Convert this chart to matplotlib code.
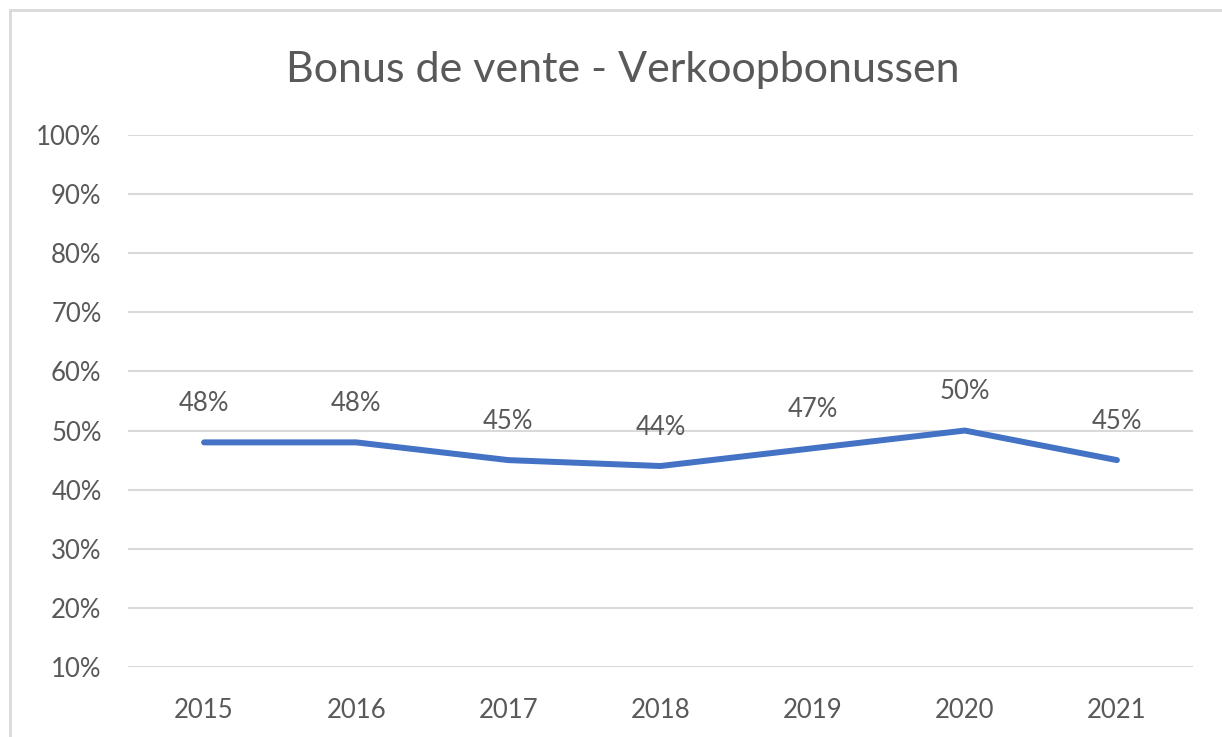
import matplotlib
matplotlib.use("Agg")
import matplotlib.pyplot as plt
from matplotlib.patches import Rectangle

years = ["2015", "2016", "2017", "2018", "2019", "2020", "2021"]
values = [48, 48, 45, 44, 47, 50, 45]
y_ticks = [10, 20, 30, 40, 50, 60, 70, 80, 90, 100]

TEXT = "#595959"
GRID = "#D9D9D9"
BLUE = "#4472C4"

plt.rcParams["font.family"] = ["Lato", "DejaVu Sans"]

fig = plt.figure(figsize=(12.22, 7.37), dpi=100)
ax = fig.add_axes([128 / 1222, 1 - 667 / 737, (1193 - 128) / 1222, (667 - 135) / 737])

x = list(range(len(years)))
ax.plot(x, values, color=BLUE, linewidth=4.3, solid_capstyle="round", solid_joinstyle="round", zorder=3)
for xi, v in zip(x, values):
    ax.annotate(f"{v}%", (xi, v), xytext=(0, 28), textcoords="offset points",
                ha="center", va="center", fontsize=18.5, color=TEXT)

ax.set_xlim(-0.5, len(years) - 0.5)
ax.set_ylim(10, 100)
ax.set_yticks(y_ticks)
ax.set_yticklabels([f"{t}%" for t in y_ticks])
ax.set_xticks(x)
ax.set_xticklabels(years)
ax.tick_params(axis="both", length=0, labelsize=18.5, labelcolor=TEXT)
ax.tick_params(axis="y", pad=19)
ax.tick_params(axis="x", pad=22)
ax.grid(axis="y", color=GRID, linewidth=1.5)
ax.set_axisbelow(True)
for s in ax.spines.values():
    s.set_visible(False)

fig.text(623 / 1222, 1 - 70 / 737, "Bonus de vente - Verkoopbonussen", ha="center", va="center",
         fontsize=31, color=TEXT)

fig.patches.append(Rectangle((10 / 1222, -0.1), 1.2, 1 - 10 / 737 + 0.1, transform=fig.transFigure,
                             fill=False, edgecolor=GRID, linewidth=2))

fig.savefig("out.png", dpi=100)
